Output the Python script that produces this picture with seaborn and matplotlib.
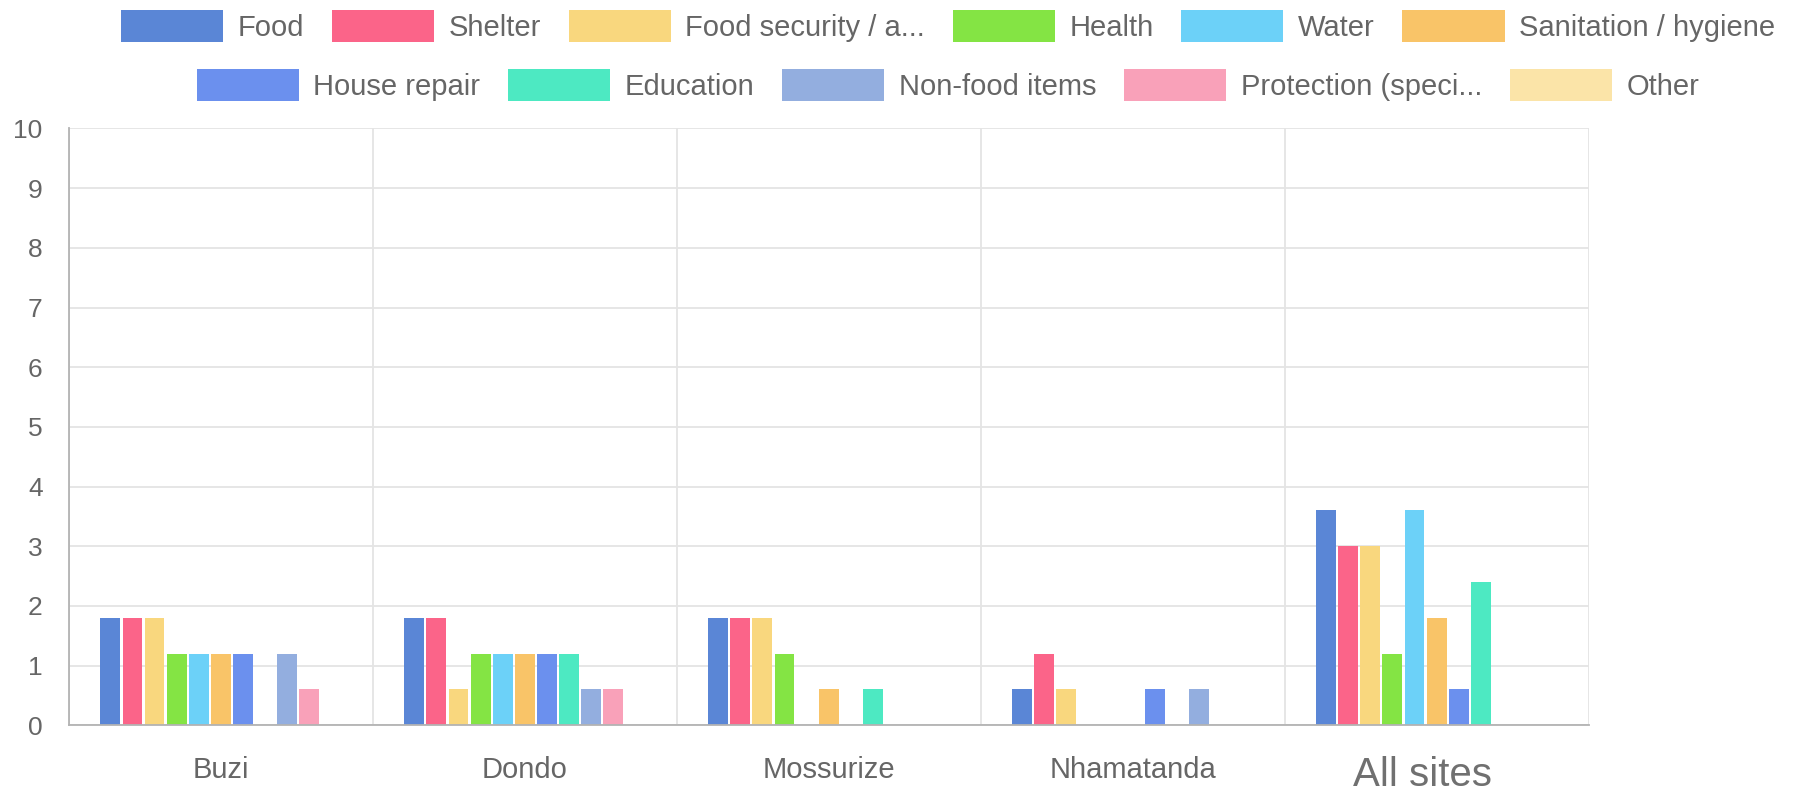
import matplotlib
matplotlib.use("Agg")
import matplotlib.pyplot as plt
import matplotlib.transforms as mtransforms
from matplotlib.patches import Patch
import pandas as pd
import seaborn as sns

sites = ["Buzi", "Dondo", "Mossurize", "Nhamatanda", "All sites"]
needs = ["Food", "Shelter", "Food security / a...", "Health", "Water",
         "Sanitation / hygiene", "House repair", "Education",
         "Non-food items", "Protection (speci...", "Other"]
colors = ["#5a86d6", "#fb6489", "#f9d77e", "#84e444", "#6cd1f8", "#f9c468",
          "#6b90ee", "#4de9c2", "#93aedf", "#f9a1b9", "#fbe4a8"]

food = [1.8, 1.8, 1.8, 0.6, 3.6]
shelter = [1.8, 1.8, 1.8, 1.2, 3.0]
food_security = [1.8, 0.6, 1.8, 0.6, 3.0]
health = [1.2, 1.2, 1.2, 0, 1.2]
water = [1.2, 1.2, 0, 0, 3.6]
sanitation = [1.2, 1.2, 0.6, 0, 1.8]
house_repair = [1.2, 1.2, 0, 0.6, 0.6]
education = [0, 1.2, 0.6, 0, 2.4]
non_food = [1.2, 0.6, 0, 0.6, 0]
protection = [0.6, 0.6, 0, 0, 0]
other = [0, 0, 0, 0, 0]

series = [food, shelter, food_security, health, water, sanitation,
          house_repair, education, non_food, protection, other]

rows = []
for need, vals in zip(needs, series):
    for site, v in zip(sites, vals):
        rows.append({"site": site, "need": need, "value": v})
df = pd.DataFrame(rows)

sns.set_style("white")
plt.rcParams['font.family'] = ['Liberation Sans', 'DejaVu Sans']

fig, ax = plt.subplots(figsize=(17.99, 7.93), dpi=100)
fig.subplots_adjust(left=0.0383, right=0.883, bottom=0.0854, top=0.838)

sns.barplot(data=df, x="site", y="value", hue="need", order=sites,
            hue_order=needs, palette=colors, saturation=1, width=0.8,
            gap=0.1, linewidth=0, errorbar=None, legend=False, ax=ax)

ax.set_xlim(-0.5, 4.5)
ax.set_ylim(0, 10)
ax.set_yticks(range(0, 11))
ax.set_xlabel("")
ax.set_ylabel("")

for side in ["top", "right"]:
    ax.spines[side].set_visible(False)
for side in ["left", "bottom"]:
    ax.spines[side].set_color("#b3b3b3")
    ax.spines[side].set_linewidth(1.3)

ax.yaxis.grid(True, color="#e4e4e4", linewidth=1.3)
ax.set_xticks([i - 0.5 for i in range(6)], minor=True)
ax.xaxis.grid(True, which="minor", color="#e4e4e4", linewidth=1.3)
ax.set_axisbelow(True)

ax.tick_params(axis="y", length=17, width=1.3, color="#e4e4e4", pad=2,
               labelsize=19, labelcolor="#666666")
ax.tick_params(axis="x", which="major", length=0, pad=22,
               labelsize=21, labelcolor="#666666")
ax.tick_params(axis="x", which="minor", length=19, width=1.3,
               color="#dddddd")

minor_ticks = ax.xaxis.get_minor_ticks()
minor_ticks[0].tick1line.set_color("#b3b3b3")
minor_ticks[-1].tick1line.set_visible(False)

last = ax.get_xticklabels()[-1]
last.set_fontsize(29)
last.set_color("#707070")
last.set_transform(last.get_transform() +
                   mtransforms.ScaledTranslation(-0.14, -0.005, fig.dpi_scale_trans))

handles = [Patch(facecolor=c, edgecolor="none") for c in colors]
leg_kw = dict(loc="center", frameon=False, fontsize=21, handlelength=3.5,
              handleheight=1.3, handletextpad=0.5, columnspacing=0.95,
              labelcolor="#666666")
leg1 = fig.legend(handles[:6], needs[:6], ncol=6,
                  bbox_to_anchor=(0.527, 0.967), **leg_kw)
leg2 = fig.legend(handles[6:], needs[6:], ncol=5,
                  bbox_to_anchor=(0.527, 0.893), **leg_kw)

fig.savefig("out.png", dpi=100)
